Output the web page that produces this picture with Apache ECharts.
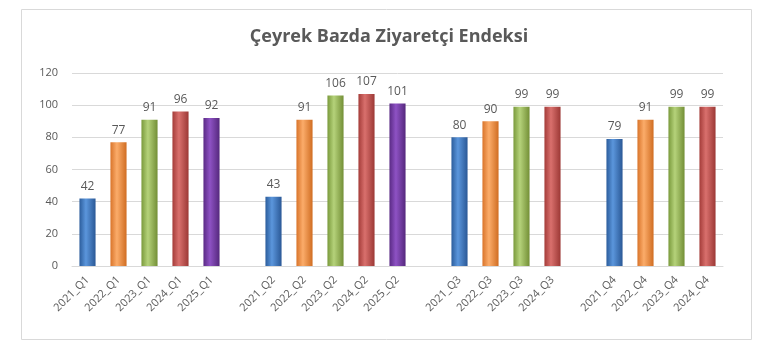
<!DOCTYPE html>
<html><head><meta charset="utf-8">
<script src="https://cdn.jsdelivr.net/npm/echarts@6/dist/echarts.min.js"></script>
<style>html,body{margin:0;padding:0;background:#fff}#c{width:778px;height:364px}</style>
</head><body><div id="c"></div>
<script>
const titleText = 'Çeyrek Bazda Ziyaretçi Endeksi';
const categories = ['2021_Q1','2022_Q1','2023_Q1','2024_Q1','2025_Q1','',
  '2021_Q2','2022_Q2','2023_Q2','2024_Q2','2025_Q2','',
  '2021_Q3','2022_Q3','2023_Q3','2024_Q3','',
  '2021_Q4','2022_Q4','2023_Q4','2024_Q4'];
const values = [42,77,91,96,92,null, 43,91,106,107,101,null, 80,90,99,99,null, 79,91,99,99];
const yTicks = [0,20,40,60,80,100,120];
const yearColors = {
  '2021': ['#2c5d9c','#5b96dc','#2a5896'],
  '2022': ['#d9742a','#fbac6a','#d06d22'],
  '2023': ['#7a9a3c','#b5d27a','#738f36'],
  '2024': ['#a43c39','#d9706d','#9c3835'],
  '2025': ['#5a2a85','#8e52c4','#55287d']
};
function grad(c){
  return new echarts.graphic.LinearGradient(0,0,1,0,[
    {offset:0,color:c[0]},{offset:0.4,color:c[1]},{offset:1,color:c[2]}]);
}
const data = values.map((v,i)=>{
  if(v===null) return null;
  const y = categories[i].slice(0,4);
  return {value:v,itemStyle:{color:grad(yearColors[y])}};
});
const chart = echarts.init(document.getElementById('c'));
chart.setOption({
  animation:false,
  graphic:[{type:'rect',shape:{x:21.5,y:9.5,width:730,height:330},style:{fill:'none',stroke:'#d9d9d9',lineWidth:1}}],
  title:{text:titleText,left:'center',top:23,textStyle:{fontFamily:'Open Sans',fontSize:18,fontWeight:'bold',color:'#595959'}},
  grid:{left:72,right:55,top:73,bottom:98},
  xAxis:{type:'category',data:categories,
    axisLine:{lineStyle:{color:'#d9d9d9'}},axisTick:{show:false},
    axisLabel:{interval:0,rotate:45,color:'#595959',fontSize:11,fontFamily:'Open Sans',margin:12}},
  yAxis:{type:'value',min:0,max:120,interval:20,
    axisLabel:{color:'#595959',fontSize:11,fontFamily:'Open Sans',margin:14,
      formatter:v=>yTicks.includes(v)?String(v):''},
    splitLine:{lineStyle:{color:'#d9d9d9'}}},
  series:[{type:'bar',data:data,barWidth:'52%',
    label:{show:true,position:'top',distance:6,color:'#595959',fontSize:12,fontFamily:'Open Sans'}}]
});
</script></body></html>
